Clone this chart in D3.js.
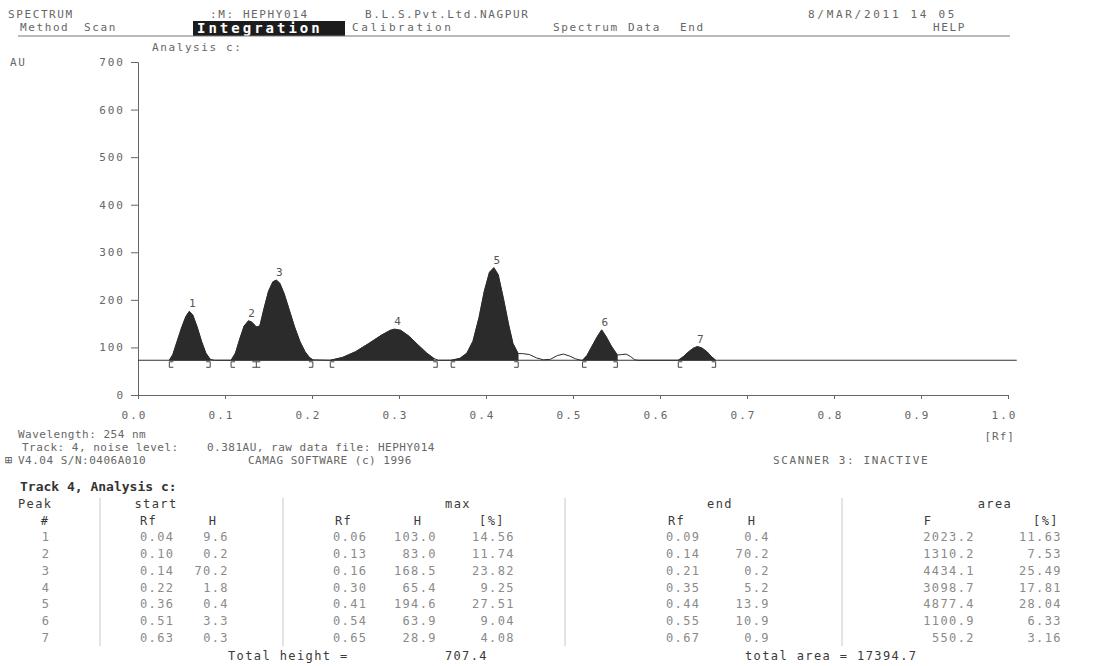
<!DOCTYPE html>
<html>
<head>
<meta charset="utf-8">
<script src="https://cdn.jsdelivr.net/npm/d3@7"></script>
<style>
  html, body { margin: 0; padding: 0; background: #fff; }
  svg { display: block; }
  text { font-family: "DejaVu Sans Mono", "Liberation Mono", monospace; }
</style>
</head>
<body>
<svg id="chart" width="1117" height="666"></svg>
<script>
// densitogram profile: [Rf, height above baseline in AU]
const baselineAU = 73;
const profile = [
  [0.036, 0], [0.040, 12], [0.045, 40], [0.050, 68], [0.055, 92], [0.059, 103], [0.063, 95],
  [0.068, 70], [0.073, 40], [0.078, 15], [0.083, 2], [0.088, 0],
  [0.107, 0], [0.112, 15], [0.117, 45], [0.122, 72], [0.127, 83], [0.131, 80], [0.136, 70],
  [0.140, 72], [0.145, 110], [0.150, 145], [0.155, 165], [0.159, 168.5], [0.163, 162],
  [0.168, 140], [0.174, 105], [0.180, 70], [0.186, 40], [0.192, 18], [0.197, 6], [0.201, 1],
  [0.221, 0], [0.235, 6], [0.250, 18], [0.265, 35], [0.280, 53], [0.290, 63], [0.295, 65.4],
  [0.302, 63], [0.312, 50], [0.322, 32], [0.332, 15], [0.340, 4], [0.345, 0],
  [0.360, 0], [0.370, 4], [0.378, 15], [0.385, 40], [0.392, 90], [0.398, 145], [0.404, 185],
  [0.409, 194.6], [0.414, 180], [0.420, 130], [0.426, 75], [0.431, 35], [0.437, 14],
  [0.442, 14], [0.450, 12], [0.458, 5], [0.466, 1], [0.474, 2], [0.482, 10], [0.489, 13],
  [0.496, 9], [0.503, 3], [0.509, 0],
  [0.511, 0], [0.516, 10], [0.522, 30], [0.528, 50], [0.533, 63.9], [0.538, 50], [0.544, 30],
  [0.551, 11], [0.556, 12], [0.561, 13], [0.566, 8], [0.571, 1], [0.575, 0],
  [0.621, 0], [0.627, 8], [0.633, 18], [0.638, 25], [0.643, 28.9], [0.648, 26], [0.654, 18],
  [0.659, 8], [0.664, 0]
];

// integration windows as drawn (bracket positions)
const windowStart = [0.036, 0.107, 0.221, 0.360, 0.511, 0.621];
const windowEnd = [0.083, 0.201, 0.344, 0.437, 0.551, 0.664];
const windowSplit = [0.136];

// peak labels
const peakLabels = ['1', '2', '3', '4', '5', '6', '7'];
const peakApexRf = [0.059, 0.127, 0.159, 0.295, 0.409, 0.533, 0.643];
const peakApexH = [103.0, 83.0, 168.5, 65.4, 194.6, 63.9, 28.9];

const yTicks = [0, 100, 200, 300, 400, 500, 600, 700];
const xTicks = [0, 0.1, 0.2, 0.3, 0.4, 0.5, 0.6, 0.7, 0.8, 0.9, 1.0];

// result table
const peakNo = ['1', '2', '3', '4', '5', '6', '7'];
const startRf = ['0.04', '0.10', '0.14', '0.22', '0.36', '0.51', '0.63'];
const startH = ['9.6', '0.2', '70.2', '1.8', '0.4', '3.3', '0.3'];
const maxRf = ['0.06', '0.13', '0.16', '0.30', '0.41', '0.54', '0.65'];
const maxH = ['103.0', '83.0', '168.5', '65.4', '194.6', '63.9', '28.9'];
const maxPct = ['14.56', '11.74', '23.82', '9.25', '27.51', '9.04', '4.08'];
const endRf = ['0.09', '0.14', '0.21', '0.35', '0.44', '0.55', '0.67'];
const endH = ['0.4', '70.2', '0.2', '5.2', '13.9', '10.9', '0.9'];
const areaF = ['2023.2', '1310.2', '4434.1', '3098.7', '4877.4', '1100.9', '550.2'];
const areaPct = ['11.63', '7.53', '25.49', '17.81', '28.04', '6.33', '3.16'];

const svg = d3.select('#chart');
const ink = '#2a2a2a';
const grey = '#666';

function label(x, y, str, opts = {}) {
  return svg.append('text')
    .attr('x', x).attr('y', y)
    .attr('font-size', opts.size || 11)
    .attr('letter-spacing', opts.ls ?? 1.6)
    .attr('fill', opts.fill || grey)
    .attr('font-weight', opts.weight || 'normal')
    .attr('text-anchor', opts.anchor || 'start')
    .text(str);
}

// ---- header ----
label(8, 18, 'SPECTRUM');
label(210, 18, ':M: HEPHY014');
label(365, 18, 'B.L.S.Pvt.Ltd.NAGPUR');
label(808, 18, '8/MAR/2011 14 05', { ls: 2.7 });
label(20, 31, 'Method');
label(84, 31, 'Scan');
svg.append('rect').attr('x', 193).attr('y', 21).attr('width', 152).attr('height', 15).attr('fill', '#1c1c1c');
svg.append('text').attr('x', 197).attr('y', 33).attr('font-size', 14).attr('font-weight', 'bold')
  .attr('font-family', '"Liberation Serif", serif').attr('letter-spacing', 3).attr('fill', '#fff').text('Integration');
label(352, 31, 'Calibration', { ls: 2.6 });
label(553, 31, 'Spectrum');
label(628, 31, 'Data');
label(680, 31, 'End');
label(933, 31, 'HELP');
svg.append('line').attr('x1', 18).attr('x2', 1010).attr('y1', 36).attr('y2', 36).attr('stroke', '#777').attr('stroke-width', 1);

label(10, 66, 'AU');
label(152, 51, 'Analysis c:');

// ---- chart ----
const x = d3.scaleLinear().domain([0, 1]).range([138, 1008]);
const y = d3.scaleLinear().domain([0, 700]).range([395, 62]);

const yAxis = svg.append('g')
  .attr('transform', 'translate(138,0)')
  .call(d3.axisLeft(y).tickValues(yTicks).tickSize(7).tickPadding(6).tickFormat((d) => d));
const xAxis = svg.append('g')
  .attr('transform', `translate(0,${y(0)})`)
  .call(d3.axisBottom(x).tickValues(xTicks).tickSize(4).tickPadding(12).tickFormat(d3.format('.1f')));
[yAxis, xAxis].forEach((g) => {
  g.select('.domain').attr('stroke', '#666');
  g.selectAll('.tick line').attr('stroke', '#666');
  g.selectAll('.tick text')
    .attr('fill', grey)
    .attr('font-size', 11)
    .attr('letter-spacing', 2)
    .attr('font-family', '"DejaVu Sans Mono", monospace');
});
xAxis.selectAll('.tick text').attr('dx', -4);
label(1015, 440, '[Rf]', { anchor: 'end', ls: 1 });

// filled peak areas
const base = y(baselineAU);
const area = d3.area()
  .x((d) => x(d[0]))
  .y0(base)
  .y1((d) => y(baselineAU + d[1]));
windowStart.forEach((s, i) => {
  const e = windowEnd[i];
  const pts = profile.filter((p) => p[0] >= s - 1e-9 && p[0] <= e + 1e-9);
  svg.append('path').attr('d', area(pts)).attr('fill', '#2b2b2b').attr('stroke', '#2b2b2b').attr('stroke-width', 0.6);
});

// full trace
const line = d3.line().x((d) => x(d[0])).y((d) => y(baselineAU + d[1]));
svg.append('path').attr('d', line(profile)).attr('fill', 'none').attr('stroke', ink).attr('stroke-width', 1);

// baseline
svg.append('line').attr('x1', x(0)).attr('x2', x(1.01)).attr('y1', base).attr('y2', base)
  .attr('stroke', '#333').attr('stroke-width', 1.2);

// integration brackets
const br = svg.append('g').attr('fill', 'none').attr('stroke', '#444').attr('stroke-width', 1);
windowStart.forEach((s) => {
  const px = x(s);
  br.append('path').attr('d', `M${px + 4},${base + 1.5}H${px}V${base + 7}H${px + 4}`);
});
windowEnd.forEach((e) => {
  const px = x(e);
  br.append('path').attr('d', `M${px - 4},${base + 1.5}H${px}V${base + 7}H${px - 4}`);
});
windowSplit.forEach((m) => {
  const px = x(m);
  br.append('path').attr('d', `M${px - 4},${base + 1.5}H${px + 4}M${px},${base + 1.5}V${base + 7}M${px - 4},${base + 7}H${px + 4}`);
});

// peak numbers
peakLabels.forEach((t, i) => {
  label(x(peakApexRf[i]) + 3, y(baselineAU + peakApexH[i]) - 4, t, { anchor: 'middle', ls: 0, size: 11, fill: '#555' });
});

// ---- info lines ----
const info = { ls: 0.5 };
label(18, 438, 'Wavelength: 254 nm', info);
label(22, 451, 'Track:  4, noise level:', info);
label(207, 451, '0.381AU, raw data file: HEPHY014', info);
label(5, 464, '\u229E', { ls: 0, size: 12 });
label(18, 464, 'V4.04 S/N:0406A010', info);
label(248, 464, 'CAMAG SOFTWARE (c) 1996', info);
label(773, 464, 'SCANNER 3: INACTIVE', { ls: 1.6 });

// ---- result table ----
svg.append('text').attr('x', 20).attr('y', 491).attr('font-size', 13).attr('font-weight', 'bold')
  .attr('font-family', '"Liberation Mono", monospace').attr('letter-spacing', 0).attr('fill', '#333')
  .text('Track 4, Analysis c:');

const head = (xx, yy, t, anchor) => svg.append('text').attr('x', xx).attr('y', yy).attr('text-anchor', anchor || 'start')
  .attr('font-size', 12).attr('font-family', '"Liberation Mono", monospace').attr('letter-spacing', 1.4)
  .attr('fill', '#3a3a3a').text(t);
head(18, 508, 'Peak');
head(156, 508, 'start', 'middle');
head(458, 508, 'max', 'middle');
head(720, 508, 'end', 'middle');
head(995, 508, 'area', 'middle');
head(45, 525, '#', 'middle');
head(140, 525, 'Rf');
head(213, 525, 'H', 'middle');
head(335, 525, 'Rf');
head(418, 525, 'H', 'middle');
head(492, 525, '[%]', 'middle');
head(668, 525, 'Rf');
head(752, 525, 'H', 'middle');
head(928, 525, 'F', 'middle');
head(1046, 525, '[%]', 'middle');

const rowY = d3.scaleLinear().domain([0, 6]).range([541, 642]);
const cols = [
  { vals: peakNo, x: 46, anchor: 'middle' },
  { vals: startRf, x: 140, anchor: 'start' },
  { vals: startH, x: 229, anchor: 'end' },
  { vals: maxRf, x: 333, anchor: 'start' },
  { vals: maxH, x: 437, anchor: 'end' },
  { vals: maxPct, x: 515, anchor: 'end' },
  { vals: endRf, x: 666, anchor: 'start' },
  { vals: endH, x: 770, anchor: 'end' },
  { vals: areaF, x: 975, anchor: 'end' },
  { vals: areaPct, x: 1062, anchor: 'end' }
];
cols.forEach((c) => {
  svg.append('g').selectAll('text').data(c.vals).join('text')
    .attr('x', c.x).attr('y', (d, i) => rowY(i))
    .attr('text-anchor', c.anchor)
    .attr('font-size', 12).attr('font-family', '"Liberation Mono", monospace').attr('letter-spacing', 1.4)
    .attr('fill', '#8a8a8a').text((d) => d);
});
// column separators
[100, 283, 565, 842].forEach((sx) => {
  svg.append('line').attr('x1', sx).attr('x2', sx).attr('y1', 498).attr('y2', 646)
    .attr('stroke', '#c8c8c8').attr('stroke-width', 1);
});
head(228, 660, 'Total height =');
head(488, 660, '707.4', 'end');
head(745, 660, 'total area = 17394.7');
</script>
</body>
</html>
